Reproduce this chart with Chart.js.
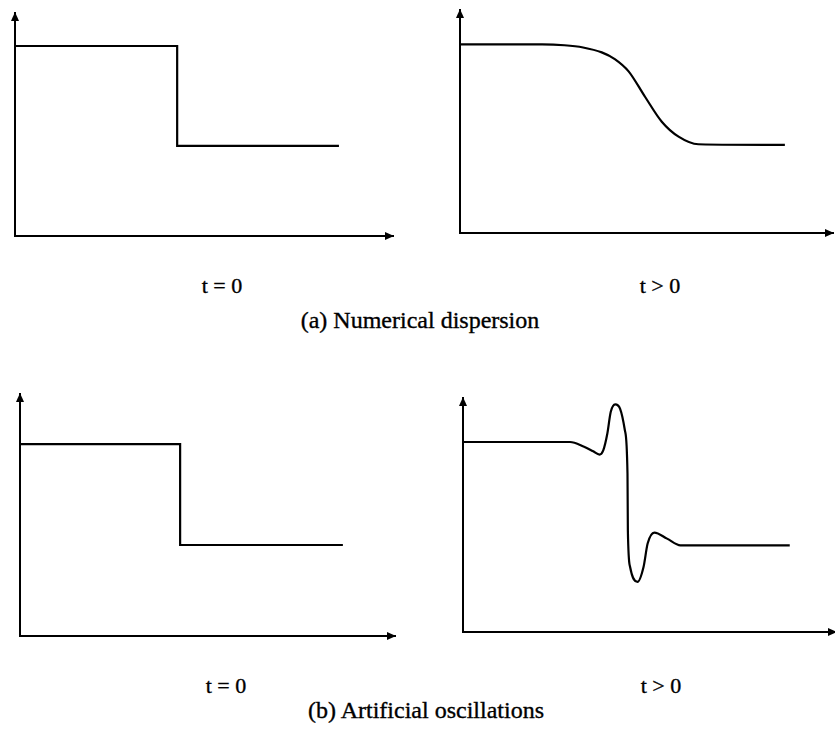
<!DOCTYPE html>
<html>
<head>
<meta charset="utf-8">
<script src="https://cdn.jsdelivr.net/npm/chart.js@4/dist/chart.umd.min.js"></script>
<style>
    html, body { margin: 0; padding: 0; background: #fff; }
    #page { position: relative; width: 835px; height: 739px; overflow: hidden; }
    canvas { position: absolute; }
    .lbl { position: absolute; font-family: "Liberation Serif", Tinos, "Times New Roman", Times, "DejaVu Serif", serif; color: #000; white-space: nowrap; line-height: 1; transform: translateX(-50%); -webkit-text-stroke: 0.35px #000; }
    .t { font-size: 22px; }
    .cap { font-size: 24px; }
</style>
</head>
<body>
<div id="page">
    <canvas id="p1"></canvas>
    <canvas id="p2"></canvas>
    <canvas id="p3"></canvas>
    <canvas id="p4"></canvas>

    <div class="lbl t" style="left:222px; top:275px;">t = 0</div>
    <div class="lbl t" style="left:660px; top:275px;">t &gt; 0</div>
    <div class="lbl cap" style="left:420px; top:308px;">(a) Numerical dispersion</div>

    <div class="lbl t" style="left:226px; top:675px;">t = 0</div>
    <div class="lbl t" style="left:661px; top:675px;">t &gt; 0</div>
    <div class="lbl cap" style="left:426px; top:698px;">(b) Artificial oscillations</div>
</div>

<script>
// distance along each axis runs 0..100, arrow tip at 100

// (a) t = 0 : sharp front
const frontAX = [0, 42.9, 42.9, 85.7];
const frontAY = [85.2, 85.2, 40.4, 40.4];

// (a) t > 0 : smeared front
const smearX = [0, 22.0, 28.0, 33.0, 38.0, 41.5, 45.2, 49.6, 54.1, 58.6, 63.9, 87.1];
const smearY = [84.6, 84.6, 84.2, 83.2, 81.0, 78.0, 72.5, 61.1, 49.9, 43.2, 39.8, 39.5];

// (b) t = 0 : sharp front
const frontBX = [0, 42.7, 42.7, 86.1];
const frontBY = [79.3, 79.3, 37.6, 37.6];

// (b) t > 0 : front with over/undershoot
const wiggleX = [0, 28.7, 32.3, 34.9, 36.6, 37.6, 38.7, 39.6, 40.8, 42.1, 43.4, 44.1, 44.2, 44.8, 46.8, 48.4, 49.5, 51.3, 54.7, 58.3, 87.6];
const wiggleY = [81.2, 81.2, 79.3, 77.2, 75.8, 77.6, 84.8, 94.0, 97.3, 95.5, 86.2, 67.6, 43.4, 27.8, 21.4, 27.8, 37.8, 42.5, 39.9, 37.0, 37.0];

// axis boxes on the page: left, top (arrow tip), right (arrow tip), bottom
const panels = [
    { id: 'p1', box: [15, 13, 393, 236], xs: frontAX, ys: frontAY, smooth: false },
    { id: 'p2', box: [460, 10, 833, 233], xs: smearX, ys: smearY, smooth: true },
    { id: 'p3', box: [20, 394, 395, 636], xs: frontBX, ys: frontBY, smooth: false },
    { id: 'p4', box: [463, 398, 836, 632], xs: wiggleX, ys: wiggleY, smooth: true },
];

const PAD = 8;
const INK = '#000';

// arrow heads at the ends of both axes
const arrowHeads = {
    id: 'arrowHeads',
    afterDraw(chart) {
        const { ctx, chartArea: a } = chart;
        ctx.save();
        ctx.fillStyle = INK;
        ctx.beginPath();
        ctx.moveTo(a.left, a.top - 1);
        ctx.lineTo(a.left - 4, a.top + 8);
        ctx.lineTo(a.left + 4, a.top + 8);
        ctx.closePath();
        ctx.fill();
        ctx.beginPath();
        ctx.moveTo(a.right + 1, a.bottom);
        ctx.lineTo(a.right - 8, a.bottom - 4);
        ctx.lineTo(a.right - 8, a.bottom + 4);
        ctx.closePath();
        ctx.fill();
        ctx.restore();
    }
};

function axis() {
    return {
        type: 'linear',
        min: 0,
        max: 100,
        ticks: { display: false },
        grid: { display: false, drawTicks: false },
        border: { display: true, color: INK, width: 2 },
    };
}

function makePanel(p) {
    const [left, top, right, bottom] = p.box;
    const canvas = document.getElementById(p.id);
    canvas.width = right - left + PAD * 2;
    canvas.height = bottom - top + PAD * 2;
    canvas.style.left = (left - PAD) + 'px';
    canvas.style.top = (top - PAD) + 'px';

    const points = p.xs.map((x, i) => ({ x: x, y: p.ys[i] }));

    return new Chart(canvas, {
        type: 'line',
        data: {
            datasets: [{
                data: points,
                borderColor: INK,
                borderWidth: 2.2,
                pointRadius: 0,
                fill: false,
                clip: false,
                tension: p.smooth ? 0.4 : 0,
                cubicInterpolationMode: p.smooth ? 'monotone' : 'default',
            }]
        },
        options: {
            responsive: false,
            animation: false,
            layout: { padding: PAD },
            plugins: { legend: { display: false }, tooltip: { enabled: false } },
            scales: { x: axis(), y: axis() },
        },
        plugins: [arrowHeads],
    });
}

panels.forEach(makePanel);
</script>
</body>
</html>
